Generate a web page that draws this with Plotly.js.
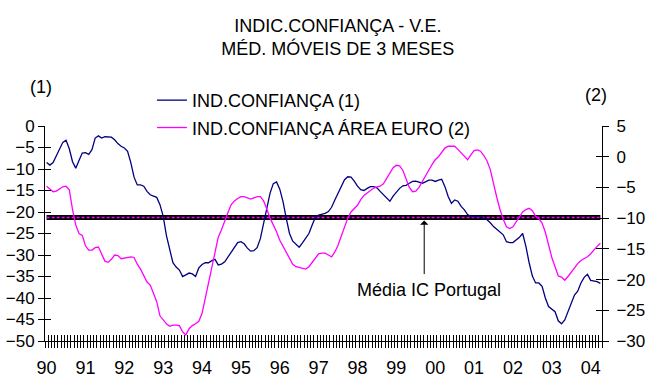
<!DOCTYPE html>
<html>
<head>
<meta charset="utf-8">
<script src="https://cdn.plot.ly/plotly-3.0.1.min.js"></script>
<style>
html,body{margin:0;padding:0;background:#fff;}
#chart{width:656px;height:387px;}
</style>
</head>
<body>
<div id="chart"></div>
<script>
// Monthly data, Jan 1990 - Apr 2004 (3-month moving averages)
const yearLabels = ['90','91','92','93','94','95','96','97','98','99','00','01','02','03','04'];

// IND.CONFIANÇA (1) - left axis
const indConfianca = [
 -8.5,-9.1,-8.5,-7.0,-5.2,-3.8,-3.3,-5.3,-8.3,-9.8,-8.0,-6.3,
 -6.2,-6.6,-5.5,-2.8,-2.3,-2.8,-2.5,-2.5,-2.6,-3.2,-4.1,-4.7,
 -5.1,-5.9,-8.5,-11.9,-13.7,-13.7,-14.0,-15.2,-16.0,-16.3,-16.6,-18.3,
 -21.0,-25.5,-29.0,-31.8,-32.8,-33.5,-35.0,-34.6,-34.2,-34.4,-35.0,-33.0,
 -32.2,-31.8,-31.8,-31.3,-31.0,-32.3,-32.1,-31.6,-30.5,-29.3,-28.0,-27.1,
 -26.9,-27.4,-28.4,-29.1,-29.0,-28.3,-26.2,-22.7,-18.8,-15.6,-13.4,-13.0,
 -14.7,-17.6,-21.5,-25.0,-26.8,-27.6,-28.2,-27.2,-26.2,-25.0,-23.0,-21.2,
 -20.7,-20.5,-20.3,-19.9,-18.9,-17.2,-15.5,-13.8,-12.5,-11.8,-11.9,-12.8,
 -14.0,-14.8,-15.0,-14.5,-14.1,-14.1,-14.4,-15.2,-15.9,-16.8,-17.5,-16.3,
 -15.3,-14.5,-13.9,-13.8,-13.3,-12.9,-12.8,-13.0,-13.3,-13.0,-12.6,-12.6,
 -12.9,-12.6,-12.4,-14.1,-16.4,-18.0,-17.2,-17.5,-18.7,-19.5,-20.6,-21.0,
 -21.1,-21.0,-21.1,-21.5,-21.8,-22.5,-23.4,-24.0,-24.6,-25.3,-26.9,-27.1,
 -27.1,-26.5,-25.9,-25.0,-28.0,-31.8,-34.9,-36.5,-36.5,-37.3,-40.0,-42.0,
 -42.6,-43.2,-45.3,-46.0,-45.1,-43.2,-41.0,-39.3,-38.4,-36.5,-35.2,-34.5,
 -35.9,-36.0,-36.2,-36.6
];

// IND.CONFIANÇA ÁREA EURO (2) - right axis
const indConfiancaEuro = [
 -4.8,-5.2,-5.7,-5.6,-5.2,-4.9,-4.8,-5.4,-8.6,-11.1,-12.5,-12.8,
 -14.5,-15.2,-15.2,-14.8,-14.7,-15.9,-17.0,-17.2,-16.7,-16.0,-16.1,-16.6,
 -16.5,-16.3,-16.3,-16.4,-17.5,-18.3,-19.4,-20.4,-20.9,-22.3,-23.6,-25.9,
 -26.6,-27.2,-27.6,-27.4,-27.4,-27.5,-28.5,-29.0,-28.0,-27.5,-27.2,-26.8,
 -25.5,-23.1,-20.6,-18.0,-15.5,-13.1,-11.9,-10.4,-9.1,-7.8,-7.2,-6.8,
 -6.5,-6.5,-6.7,-6.9,-6.7,-6.5,-6.5,-7.2,-8.5,-10.0,-11.1,-12.2,
 -13.6,-14.6,-15.6,-16.7,-17.5,-17.9,-18.0,-18.1,-18.3,-17.9,-17.2,-16.5,
 -15.8,-15.7,-15.7,-16.0,-16.3,-15.5,-14.4,-12.9,-11.3,-10.0,-9.0,-8.5,
 -7.9,-7.0,-6.3,-5.9,-5.5,-5.1,-4.9,-4.8,-4.4,-3.6,-2.6,-1.8,
 -1.4,-1.5,-2.2,-3.5,-5.0,-5.7,-5.6,-5.0,-4.0,-3.2,-2.2,-1.3,
 -0.5,0.0,0.8,1.4,1.7,1.7,1.7,1.2,0.6,0.0,-0.5,0.3,
 1.0,1.1,0.9,0.2,-0.7,-2.1,-4.6,-6.6,-8.6,-10.2,-11.4,-11.7,
 -11.4,-10.6,-9.7,-9.0,-8.6,-8.4,-8.8,-9.7,-10.1,-10.8,-12.3,-14.4,
 -16.4,-17.9,-19.4,-19.6,-20.1,-19.5,-18.8,-18.0,-17.4,-16.9,-16.6,-16.3,
 -15.8,-15.1,-14.6,-14.1
];

// Média IC Portugal (left axis)
const mediaICPortugal = -21.3;

const N = indConfianca.length;
const months = indConfianca.map((_, i) => i);
const mediaSeries = months.map(() => mediaICPortugal);
const yearTickVals = yearLabels.map((_, k) => k * 12);

const FONT = "'Liberation Sans', Arial, sans-serif";
const xRange = [-0.5, N - 0.5];
const leftRange = [-50, 0];
const rightRange = [-30, 5];

// Axis pairs: x/y (labels), x2/y3 (outside month ticks + left inside ticks),
// x3/y2 (inside month ticks + right labelled axis), x/y4 (right inside ticks)
const traces = [
  {x: months, y: mediaSeries, xaxis: 'x', yaxis: 'y', mode: 'lines',
   line: {color: '#000000', width: 5}, showlegend: false, hoverinfo: 'skip'},
  {x: months, y: mediaSeries, xaxis: 'x', yaxis: 'y4', mode: 'lines',
   line: {color: '#FF00FF', width: 1.5, dash: '3px,2px'}, showlegend: false, hoverinfo: 'skip'},
  {x: months, y: indConfianca, xaxis: 'x2', yaxis: 'y3', mode: 'lines',
   name: 'IND.CONFIANÇA (1)', legendgroup: 'a',
   line: {color: '#000080', width: 1.3}},
  {x: months, y: indConfiancaEuro, xaxis: 'x3', yaxis: 'y2', mode: 'lines',
   name: 'IND.CONFIANÇA ÁREA EURO (2)', legendgroup: 'b',
   line: {color: '#FF00FF', width: 1.3}}
];

const monthTickAxis = {
  range: xRange, tickmode: 'linear', tick0: -0.5, dtick: 1,
  ticklen: 6, tickwidth: 1, tickcolor: '#000',
  showticklabels: false, showline: false, showgrid: false, zeroline: false,
  overlaying: 'x', anchor: 'y', side: 'bottom', fixedrange: true
};

const layout = {
  width: 656, height: 387,
  margin: {l: 45, r: 54, t: 126, b: 46, autoexpand: false},
  paper_bgcolor: '#fff', plot_bgcolor: '#fff',
  font: {family: FONT, color: '#000'},
  title: {
    text: 'INDIC.CONFIANÇA - V.E.<br>MÉD. MÓVEIS DE 3 MESES',
    x: 0.515, xanchor: 'center', xref: 'container',
    y: 0.918, yanchor: 'top', yref: 'container',
    font: {family: FONT, size: 18, color: '#000'}
  },
  showlegend: true,
  legend: {
    x: 0.192, y: 1.205, xanchor: 'left', yanchor: 'top',
    font: {family: FONT, size: 18, color: '#000'},
    bgcolor: 'rgba(0,0,0,0)', traceorder: 'grouped', tracegroupgap: 1
  },
  xaxis: {
    range: xRange, tickmode: 'array', tickvals: yearTickVals, ticktext: yearLabels,
    ticks: '', showline: true, linecolor: '#000', linewidth: 1,
    showgrid: false, zeroline: false, ticklabelstandoff: 10,
    tickfont: {family: FONT, size: 18, color: '#000'}, fixedrange: true
  },
  xaxis2: Object.assign({}, monthTickAxis, {ticks: 'outside'}),
  xaxis3: Object.assign({}, monthTickAxis, {ticks: 'inside'}),
  yaxis: {
    range: leftRange, tickmode: 'linear', tick0: 0, dtick: 5,
    ticks: 'outside', ticklen: 6, tickcolor: '#000',
    showline: true, linecolor: '#000', linewidth: 1,
    showgrid: false, zeroline: false,
    tickfont: {family: FONT, size: 17, color: '#000'}, fixedrange: true
  },
  yaxis3: {
    range: leftRange, tickmode: 'linear', tick0: 0, dtick: 5,
    ticks: 'inside', ticklen: 6, tickcolor: '#000', showticklabels: false,
    showline: false, showgrid: false, zeroline: false,
    overlaying: 'y', anchor: 'x', side: 'left', fixedrange: true
  },
  yaxis2: {
    range: rightRange, tickmode: 'linear', tick0: 0, dtick: 5,
    ticks: 'outside', ticklen: 6, tickcolor: '#000',
    showline: true, linecolor: '#000', linewidth: 1,
    showgrid: false, zeroline: false, side: 'right', overlaying: 'y', anchor: 'x',
    ticklabelstandoff: 4,
    tickfont: {family: FONT, size: 17, color: '#000'}, fixedrange: true
  },
  // same scale as the left axis; its ticks fall on the right-axis steps of 5
  yaxis4: {
    range: leftRange, tickmode: 'linear', tick0: 0,
    dtick: (leftRange[1] - leftRange[0]) / ((rightRange[1] - rightRange[0]) / 5),
    ticks: 'inside', ticklen: 6, tickcolor: '#000', showticklabels: false,
    showline: false, showgrid: false, zeroline: false,
    overlaying: 'y', anchor: 'x', side: 'right', fixedrange: true
  },
  annotations: [
    {xref: 'paper', yref: 'paper', x: -0.008, y: 1.18, text: '(1)', showarrow: false,
     xanchor: 'center', yanchor: 'middle', font: {family: FONT, size: 18, color: '#000'}},
    {xref: 'paper', yref: 'paper', x: 0.989, y: 1.144, text: '(2)', showarrow: false,
     xanchor: 'center', yanchor: 'middle', font: {family: FONT, size: 18, color: '#000'}},
    {xref: 'x', yref: 'y', x: 116.6, y: mediaICPortugal, text: '', showarrow: true,
     axref: 'pixel', ayref: 'pixel', ax: 0, ay: 58, standoff: 3,
     arrowhead: 1, arrowsize: 1.4, arrowwidth: 1, arrowcolor: '#000'},
    {xref: 'x', yref: 'y', x: 118.0, y: -38.1, text: 'Média IC Portugal', showarrow: false,
     xanchor: 'center', yanchor: 'middle', font: {family: FONT, size: 18, color: '#000'}}
  ]
};

Plotly.newPlot('chart', traces, layout, {displayModeBar: false, staticPlot: true});
</script>
</body>
</html>
